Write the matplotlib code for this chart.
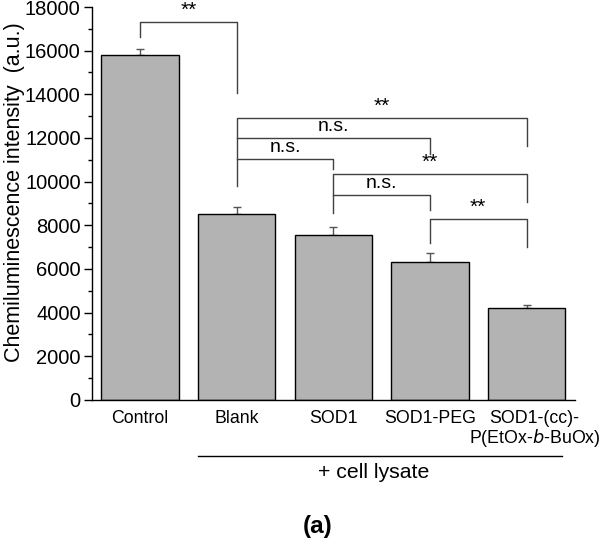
import numpy as np
import matplotlib
matplotlib.use('Agg')
import matplotlib.pyplot as plt
from matplotlib.lines import Line2D
from matplotlib.ticker import MultipleLocator
import matplotlib.transforms as mtransforms

plt.rcParams['font.family'] = ['Liberation Sans', 'DejaVu Sans']

# data
groups = ['Control', 'Blank', 'SOD1', 'SOD1-PEG', 'SOD1-(cc)-\nP(EtOx-$\\mathit{b}$-BuOx)']
values = [15800, 8500, 7550, 6330, 4200]
errors = [280, 320, 380, 380, 130]

# significance brackets: (left bar, right bar, bar height, left leg end, right leg end, label)
brackets = [
    (0, 1, 17300, 16640, 14050, '**'),
    (1, 4, 12930, 9800, 11650, '**'),
    (1, 3, 12000, 12000, 11270, 'n.s.'),
    (1, 2, 11040, 11040, 10570, 'n.s.'),
    (2, 4, 10370, 8550, 9080, '**'),
    (2, 3, 9400, 9400, 8700, 'n.s.'),
    (3, 4, 8290, 7180, 7000, '**'),
]

fig = plt.figure(figsize=(6.0, 5.39), dpi=100)
ax = fig.add_axes([0.153, 0.258, 0.805, 0.729])

x = np.arange(len(groups))
ax.bar(x, values, width=0.8, color='#b3b3b3', edgecolor='black', linewidth=1.0, zorder=2)
ax.errorbar(x, values, yerr=[np.zeros(len(errors)), errors], fmt='none',
            ecolor='#555555', elinewidth=1.0, capsize=3, capthick=1.0, zorder=1)

for i, j, h, yl, yr, lab in brackets:
    ax.plot([i, i, j, j], [yl, h, h, yr], color='#404040', lw=1.0, clip_on=False)
    off = 3 if lab == 'n.s.' else 2
    t = mtransforms.offset_copy(ax.transData, fig=fig, y=off, units='dots')
    ax.text((i + j) / 2, h, lab, ha='center', va='bottom',
            fontsize=14 if lab == 'n.s.' else 15, transform=t)

ax.set_xlim(-0.5, 4.5)
ax.set_ylim(0, 18000)
ax.yaxis.set_major_locator(MultipleLocator(2000))
ax.yaxis.set_minor_locator(MultipleLocator(1000))
ax.set_xticks(x)
ax.set_xticklabels(groups, fontsize=12.8, linespacing=1.05)
ax.tick_params(axis='x', length=0, pad=7)
ax.tick_params(axis='y', which='major', length=6, width=1, labelsize=14.5, direction='out', pad=2)
ax.tick_params(axis='y', which='minor', length=3, width=1, direction='out')
for lbl in ax.get_xticklabels():
    lbl.set_verticalalignment('top')
lab = ax.get_xticklabels()[-1]
lab.set_transform(lab.get_transform() + mtransforms.ScaledTranslation(8 / 100, 0, fig.dpi_scale_trans))

for s in ['top', 'right']:
    ax.spines[s].set_visible(False)
for s in ['left', 'bottom']:
    ax.spines[s].set_linewidth(1.0)

ax.set_ylabel('Chemiluminescence intensity  (a.u.)', fontsize=15.5)
ax.yaxis.set_label_coords(-0.139, 0.53)

fig.add_artist(Line2D([198 / 600, 562 / 600], [1 - 456 / 539, 1 - 456 / 539],
                      color='black', lw=1.0, transform=fig.transFigure))
fig.text(374 / 600, 1 - 472 / 539, '+ cell lysate', ha='center', va='center', fontsize=15.3)
fig.text(318 / 600, 1 - 526 / 539, '(a)', ha='center', va='center', fontsize=17.5, fontweight='bold')

fig.savefig('out.png', dpi=100)
